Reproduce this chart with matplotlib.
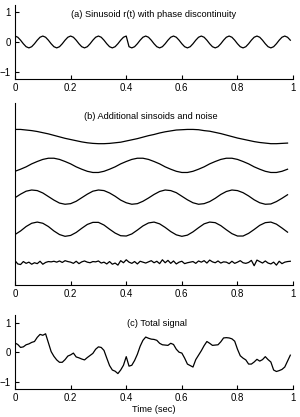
import numpy as np
import matplotlib.pyplot as plt

plt.rcParams['font.family'] = ['Liberation Sans', 'DejaVu Sans']

# time grids
t = np.arange(100) * 0.01          # 0 .. 0.99
tb = np.arange(50) * 0.02          # 0 .. 0.98

# (a) sinusoid r(t), phase jump at t = 0.4
r = [0.2, 0.16, 0.06, -0.06, -0.16, -0.2, -0.16, -0.06, 0.06, 0.16,
     0.2, 0.16, 0.06, -0.06, -0.16, -0.2, -0.16, -0.06, 0.06, 0.16,
     0.2, 0.16, 0.06, -0.06, -0.16, -0.2, -0.16, -0.06, 0.06, 0.16,
     0.2, 0.16, 0.06, -0.06, -0.16, -0.2, -0.16, -0.06, 0.06, 0.16,
     0.2, -0.16, -0.2, -0.16, -0.06, 0.06, 0.16, 0.2, 0.16, 0.06,
     -0.06, -0.16, -0.2, -0.16, -0.06, 0.06, 0.16, 0.2, 0.16, 0.06,
     -0.06, -0.16, -0.2, -0.16, -0.06, 0.06, 0.16, 0.2, 0.16, 0.06,
     -0.06, -0.16, -0.2, -0.16, -0.06, 0.06, 0.16, 0.2, 0.16, 0.06,
     -0.06, -0.16, -0.2, -0.16, -0.06, 0.06, 0.16, 0.2, 0.16, 0.06,
     -0.06, -0.16, -0.2, -0.16, -0.06, 0.06, 0.16, 0.2, 0.16, 0.06]

# (b) additional sinusoids (sampled every 0.02 s) and noise (every 0.01 s)
s1 = [0.24, 0.24, 0.22, 0.2, 0.17, 0.13, 0.09, 0.04, -0.01, -0.06,
      -0.1, -0.14, -0.18, -0.21, -0.23, -0.24, -0.24, -0.23, -0.21, -0.19,
      -0.15, -0.11, -0.07, -0.02, 0.03, 0.07, 0.12, 0.16, 0.19, 0.22,
      0.23, 0.24, 0.24, 0.23, 0.2, 0.18, 0.14, 0.1, 0.05, 0.0,
      -0.05, -0.09, -0.13, -0.17, -0.2, -0.22, -0.24, -0.24, -0.23, -0.22]
s2 = [-0.2, -0.13, -0.05, 0.05, 0.13, 0.2, 0.24, 0.24, 0.2, 0.13,
      0.05, -0.05, -0.13, -0.2, -0.24, -0.24, -0.2, -0.13, -0.05, 0.05,
      0.13, 0.2, 0.24, 0.24, 0.2, 0.13, 0.05, -0.05, -0.13, -0.2,
      -0.24, -0.24, -0.2, -0.13, -0.05, 0.05, 0.13, 0.2, 0.24, 0.24,
      0.2, 0.13, 0.05, -0.05, -0.13, -0.2, -0.24, -0.24, -0.2, -0.13]
s3 = [-0.02, 0.1, 0.2, 0.24, 0.22, 0.14, 0.02, -0.1, -0.2, -0.24,
      -0.22, -0.14, -0.02, 0.1, 0.2, 0.24, 0.22, 0.14, 0.03, -0.1,
      -0.19, -0.24, -0.22, -0.14, -0.03, 0.09, 0.19, 0.24, 0.22, 0.15,
      0.03, -0.09, -0.19, -0.24, -0.22, -0.15, -0.04, 0.09, 0.19, 0.24,
      0.22, 0.15, 0.04, -0.09, -0.19, -0.24, -0.23, -0.15, -0.04, 0.08]
s4 = [-0.18, -0.06, 0.09, 0.2, 0.24, 0.2, 0.09, -0.06, -0.18, -0.24,
      -0.21, -0.11, 0.03, 0.16, 0.23, 0.23, 0.14, 0.0, -0.13, -0.22,
      -0.23, -0.16, -0.03, 0.11, 0.21, 0.24, 0.18, 0.06, -0.08, -0.19,
      -0.24, -0.2, -0.09, 0.05, 0.18, 0.24, 0.22, 0.12, -0.02, -0.15,
      -0.23, -0.23, -0.14, -0.01, 0.13, 0.22, 0.24, 0.17, 0.04, -0.1]
noise = [0.05, -0.06, -0.08, 0.02, -0.04, 0.0, -0.07, -0.02, -0.05, 0.03,
         -0.07, -0.01, 0.02, 0.01, 0.03, 0.0, 0.04, -0.01, 0.05, 0.02,
         0.0, -0.04, 0.03, -0.05, 0.01, 0.04, 0.0, -0.02, 0.02, 0.01,
         0.04, -0.03, 0.0, -0.06, 0.02, -0.07, -0.03, -0.1, 0.05, -0.02,
         0.08, 0.0, -0.04, 0.02, -0.06, 0.03, 0.0, -0.03, 0.01, 0.05,
         -0.02, 0.03, -0.05, 0.08, -0.02, 0.06, -0.04, 0.04, -0.06, 0.0,
         0.03, -0.05, -0.02, 0.0, 0.02, -0.04, 0.04, 0.0, 0.05, -0.03,
         0.07, 0.01, -0.02, 0.04, -0.03, 0.01, 0.0, -0.05, 0.03, -0.04,
         0.0, 0.05, -0.02, -0.04, -0.01, 0.06, -0.12, 0.07, 0.02, -0.03,
         0.04, -0.03, -0.06, 0.0, -0.1, 0.03, -0.05, 0.0, 0.02, 0.03]

# (c) total signal
total = [0.31, 0.26, 0.16, 0.18, 0.25, 0.28, 0.33, 0.36, 0.5, 0.6,
         0.57, 0.62, 0.32, 0.02, -0.14, -0.26, -0.34, -0.34, -0.25, -0.13,
         -0.09, -0.03, -0.16, -0.19, -0.23, -0.26, -0.18, -0.11, -0.04, 0.1,
         0.18, 0.16, 0.06, -0.2, -0.45, -0.6, -0.64, -0.72, -0.6, -0.44,
         -0.15, -0.47, -0.44, -0.28, -0.07, 0.2, 0.4, 0.51, 0.47, 0.44,
         0.43, 0.4, 0.3, 0.25, 0.24, 0.23, 0.3, 0.26, 0.1, 0.0,
         -0.03, -0.2, -0.4, -0.45, -0.5, -0.25, -0.1, 0.05, 0.22, 0.36,
         0.3, 0.23, 0.24, 0.25, 0.35, 0.48, 0.49, 0.48, 0.45, 0.37,
         0.1, -0.12, -0.2, -0.26, -0.4, -0.4, -0.33, -0.24, -0.3, -0.25,
         -0.15, -0.25, -0.33, -0.6, -0.65, -0.62, -0.58, -0.5, -0.3, -0.1]

xticks = [0, 0.2, 0.4, 0.6, 0.8, 1]
xticklabels = ['0', '0.2', '0.4', '0.6', '0.8', '1']
yticks = [-1, 0, 1]
yticklabels = ['\u22121', '0', '1']

fig = plt.figure(figsize=(3, 4.17), dpi=100)
ax_a = fig.add_axes([0.05, 0.8106, 0.927, 0.1775])
ax_b = fig.add_axes([0.05, 0.3165, 0.927, 0.4365])
ax_c = fig.add_axes([0.05, 0.0664, 0.927, 0.178])

for ax in (ax_a, ax_b, ax_c):
    ax.spines['top'].set_visible(False)
    ax.spines['right'].set_visible(False)
    ax.spines['left'].set_linewidth(0.8)
    ax.spines['bottom'].set_linewidth(0.8)
    ax.set_xlim(0, 1)
    ax.set_xticks(xticks)
    ax.set_xticklabels(xticklabels)
    ax.tick_params(direction='in', length=3, width=0.8, labelsize=7, pad=3)

lw = 0.9
ax_a.plot(t, r, color='black', lw=lw)
ax_a.set_ylim(-1.25, 1.25)
ax_a.set_yticks(yticks)
ax_a.set_yticklabels(yticklabels)
ax_a.text(0.5, 0.874, '(a) Sinusoid r(t) with phase discontinuity', transform=ax_a.transAxes,
          ha='center', va='center', fontsize=6.7)

offsets = [5.0, 4.03, 2.96, 1.88]
for s, off in zip([s1, s2, s3, s4], offsets):
    ax_b.plot(tb, np.array(s) + off, color='black', lw=lw)
ax_b.plot(t, np.array(noise) + 0.77, color='black', lw=lw)
ax_b.set_ylim(0, 6.13)
ax_b.set_yticks([])
ax_b.text(0.49, 0.925, '(b) Additional sinsoids and noise', transform=ax_b.transAxes,
          ha='center', va='center', fontsize=6.7)

ax_c.plot(t, total, color='black', lw=lw)
ax_c.set_ylim(-1.25, 1.25)
ax_c.set_yticks(yticks)
ax_c.set_yticklabels(yticklabels)
ax_c.text(0.51, 0.888, '(c) Total signal', transform=ax_c.transAxes,
          ha='center', va='center', fontsize=6.7)
ax_c.set_xlabel('Time (sec)', fontsize=6.7, labelpad=1)

fig.savefig('out.png', dpi=100)
